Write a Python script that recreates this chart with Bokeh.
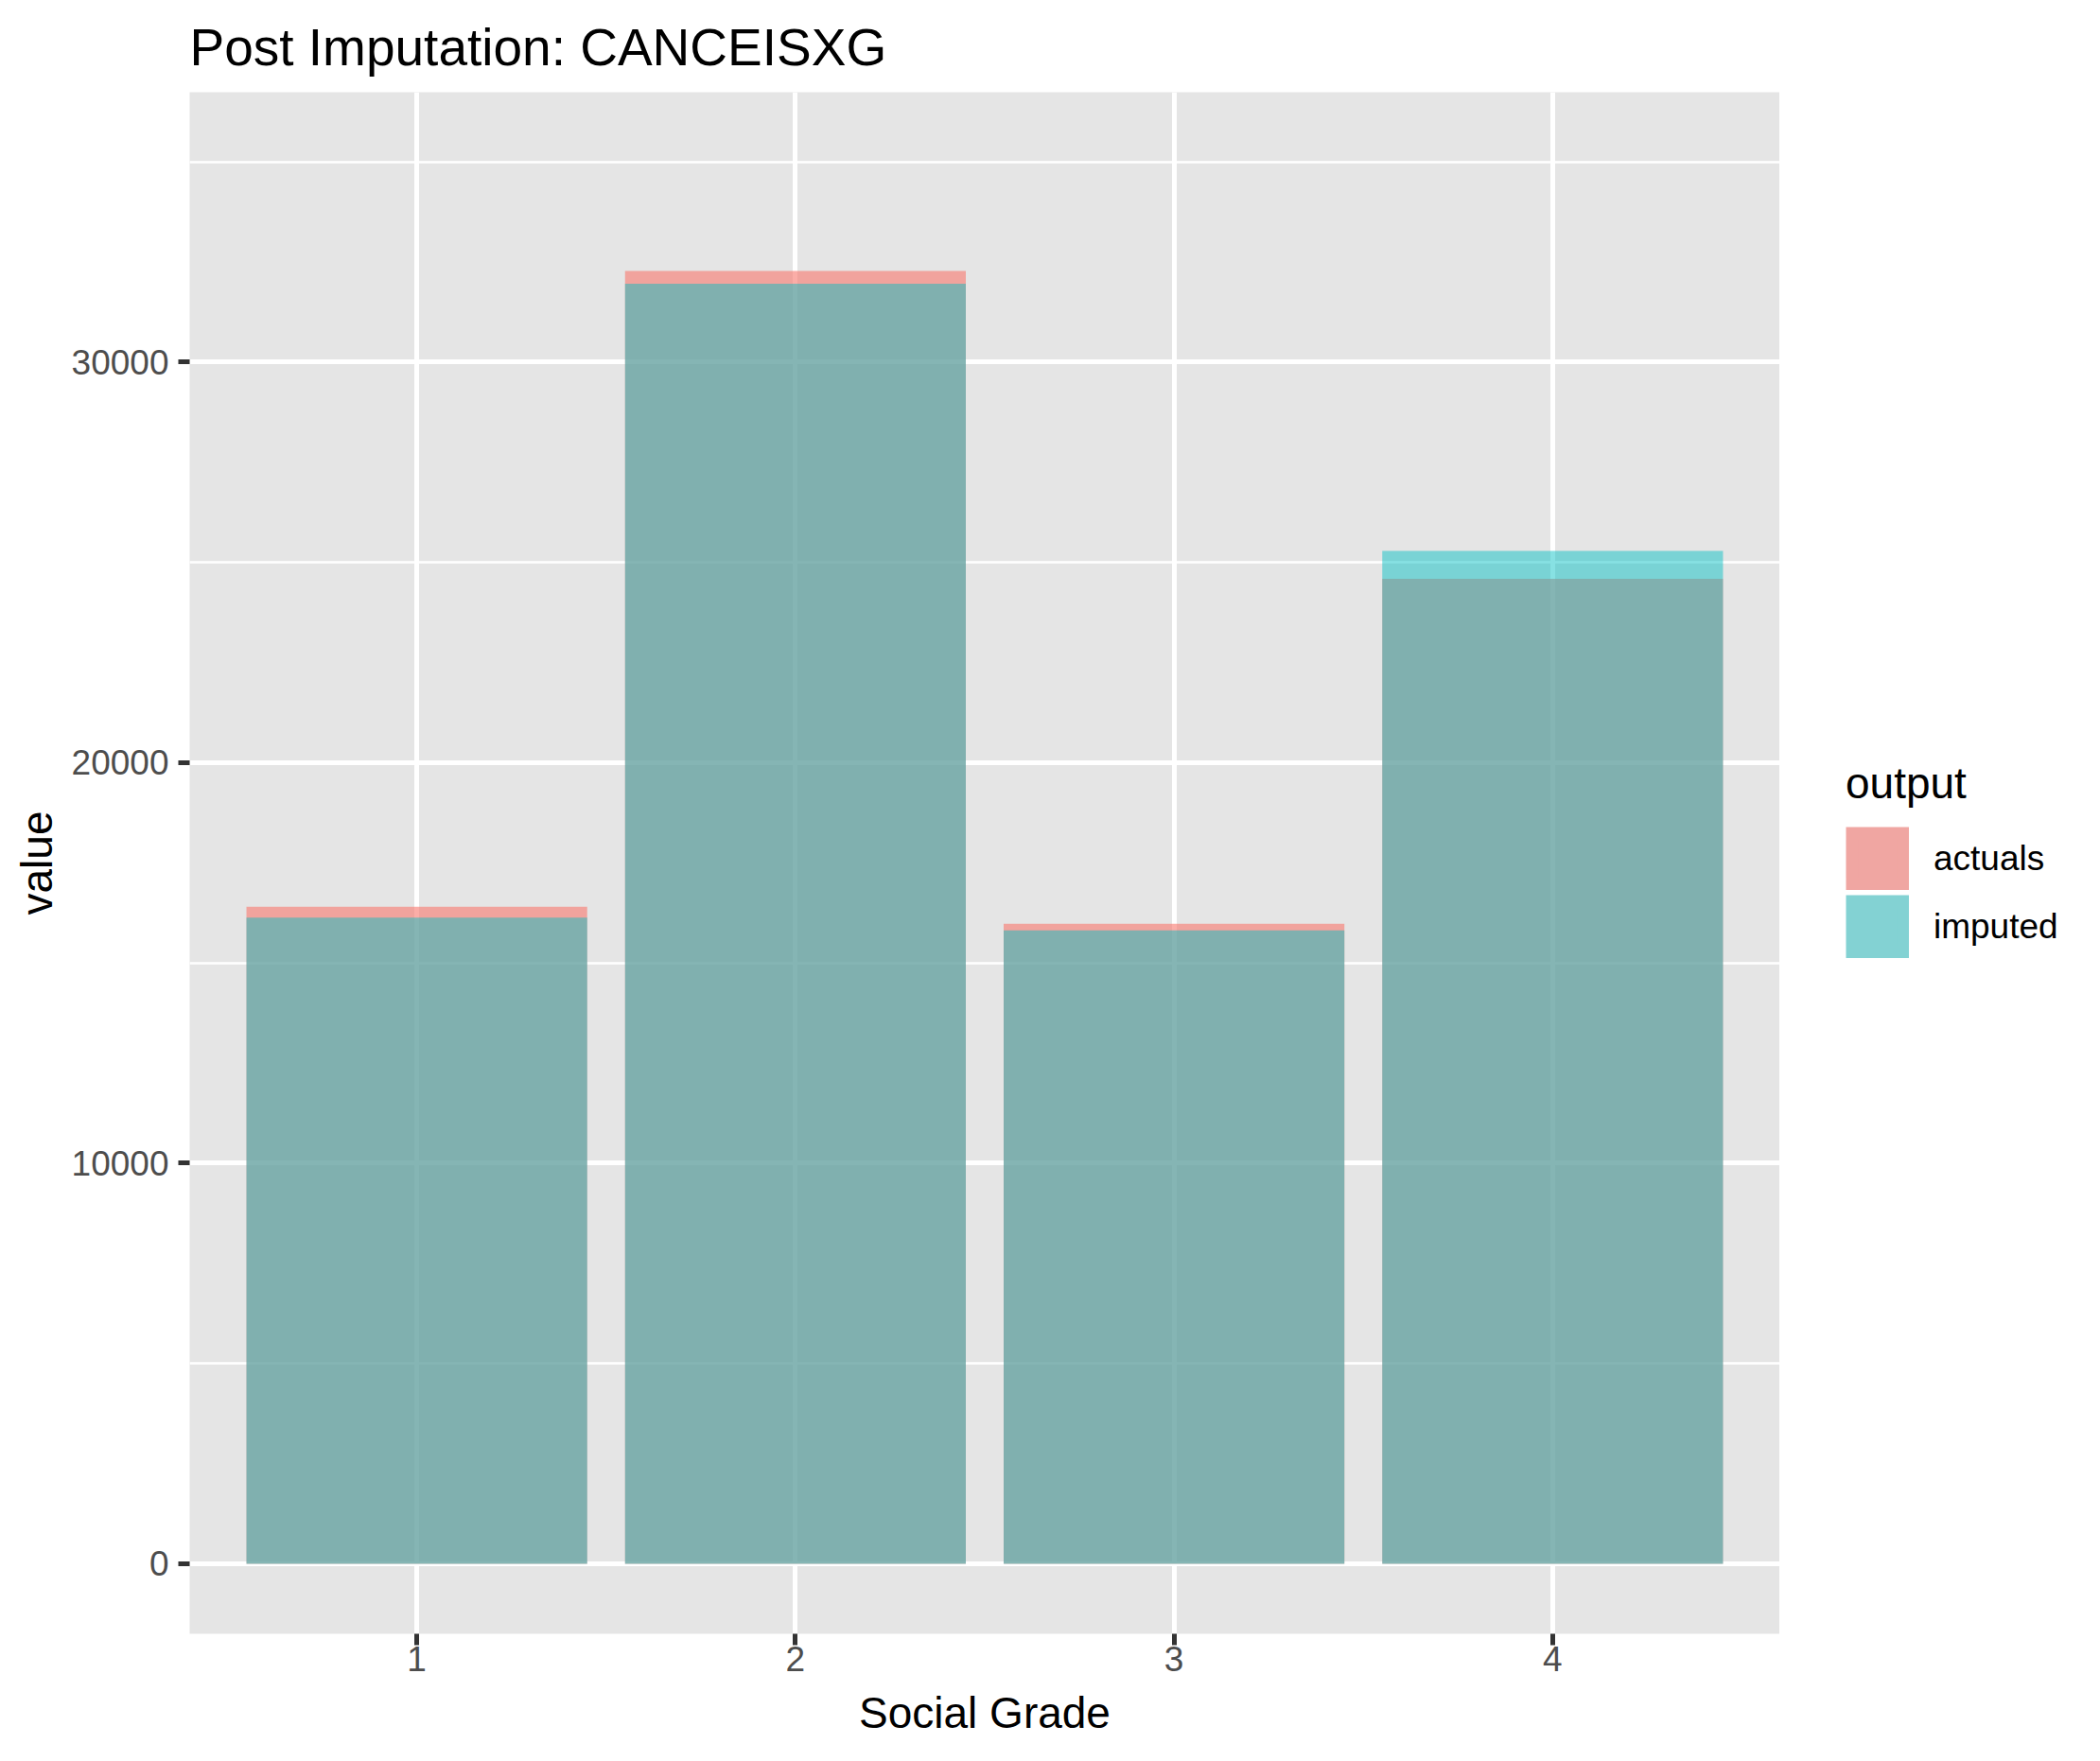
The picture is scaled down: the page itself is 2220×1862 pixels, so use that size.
from bokeh.plotting import figure
from bokeh.layouts import row
from bokeh.models import (ColumnDataSource, FactorRange, Range1d, FixedTicker,
                          Legend, LegendItem, NumeralTickFormatter)
from bokeh.embed import file_html
from bokeh.resources import INLINE

# ---- data ----
grades = ["1", "2", "3", "4"]
actuals = [16400, 32280, 15980, 24590]
imputed = [16130, 31960, 15810, 25290]
y_ticks = [0, 10000, 20000, 30000]
y_minor = [5000, 15000, 25000, 35000]
series_names = ["actuals", "imputed"]

FONT = "Liberation Sans"
H = 1846

src = ColumnDataSource(dict(grade=grades, actuals=actuals, imputed=imputed))

p = figure(width=1881, height=H,
           x_range=FactorRange(factors=grades, range_padding=0.1,
                               range_padding_units="absolute"),
           y_range=Range1d(-1750, 36740),
           output_backend="svg", toolbar_location=None,
           min_border_left=200, min_border_right=0,
           min_border_top=95, min_border_bottom=119,
           title="Post Imputation: CANCEISXG")

p.background_fill_color = "#E5E5E5"
p.border_fill_color = "white"
p.outline_line_color = None

# title
p.title.text_font = FONT
p.title.text_font_size = "55px"
p.title.text_font_style = "normal"
p.title.text_color = "black"
p.title.align = "left"
p.title.offset = 0
p.title.vertical_align = "bottom"
p.title.standoff = 33

p.vbar(x="grade", top="actuals", width=0.9, source=src,
       fill_color="#F8766D", fill_alpha=0.6, line_color=None)
p.vbar(x="grade", top="imputed", width=0.9, source=src,
       fill_color="#00BFC4", fill_alpha=0.47, line_color=None)

# axes
p.yaxis.ticker = FixedTicker(ticks=y_ticks, minor_ticks=y_minor)
p.yaxis.formatter = NumeralTickFormatter(format="0")
for ax in (p.xaxis[0], p.yaxis[0]):
    ax.axis_line_color = None
    ax.major_tick_line_color = "#333333"
    ax.major_tick_line_width = 5
    ax.major_tick_out = 12
    ax.major_tick_in = 0
    ax.minor_tick_line_color = None
    ax.major_label_text_font = FONT
    ax.major_label_text_font_size = "37px"
    ax.major_label_text_color = "#4D4D4D"
    ax.axis_label_text_font = FONT
    ax.axis_label_text_font_size = "46px"
    ax.axis_label_text_font_style = "normal"
    ax.axis_label_text_color = "black"

p.xaxis.axis_label = "Social Grade"
p.yaxis.axis_label = "value"
p.xaxis.major_label_standoff = 1
p.yaxis.major_label_standoff = 10
p.xaxis.axis_label_standoff = 15
p.yaxis.axis_label_standoff = 8

# grid
p.xgrid.grid_line_color = "white"
p.xgrid.grid_line_width = 5
p.ygrid.grid_line_color = "white"
p.ygrid.grid_line_width = 5
p.ygrid.minor_grid_line_color = "white"
p.ygrid.minor_grid_line_width = 2.7

# ---- legend panel (separate figure to the right of the plot) ----
lg = figure(width=2204 - 1881, height=H,
            x_range=FactorRange(factors=grades), y_range=Range1d(1, 2),
            output_backend="svg", toolbar_location=None,
            x_axis_location=None, y_axis_location=None,
            min_border=0)
lg.grid.visible = False
lg.outline_line_color = None
lg.background_fill_color = "white"
lg.border_fill_color = "white"

# hidden bar renderers: they only lend their colours to the legend keys
k_a = lg.vbar(x="grade", top=0, width=0.9, source=src,
              fill_color="#F0A6A2", line_color="#F0A6A2", line_width=13.4,
              line_join="miter")
k_i = lg.vbar(x="grade", top=0, width=0.9, source=src,
              fill_color="#83D2D3", line_color="#83D2D3", line_width=13.4,
              line_join="miter")
k_a.visible = False
k_i.visible = False

legend = Legend(items=[LegendItem(label=series_names[0], renderers=[k_a], index=0),
                       LegendItem(label=series_names[1], renderers=[k_i], index=0)],
                location=(70, 714), title="output")
legend.title_text_font = FONT
legend.title_text_font_size = "46px"
legend.title_text_font_style = "normal"
legend.title_text_color = "black"
legend.title_standoff = 19
legend.label_text_font = FONT
legend.label_text_font_size = "37px"
legend.label_text_color = "black"
legend.glyph_width = 67
legend.glyph_height = 67
legend.label_height = 67
legend.label_standoff = 26
legend.spacing = 5
legend.padding = 0
legend.margin = 0
legend.border_line_color = None
legend.background_fill_alpha = 0
legend.inactive_fill_alpha = 0
lg.add_layout(legend)

layout = row(p, lg, spacing=0)
open("out.html", "w").write(file_html(layout, INLINE))
